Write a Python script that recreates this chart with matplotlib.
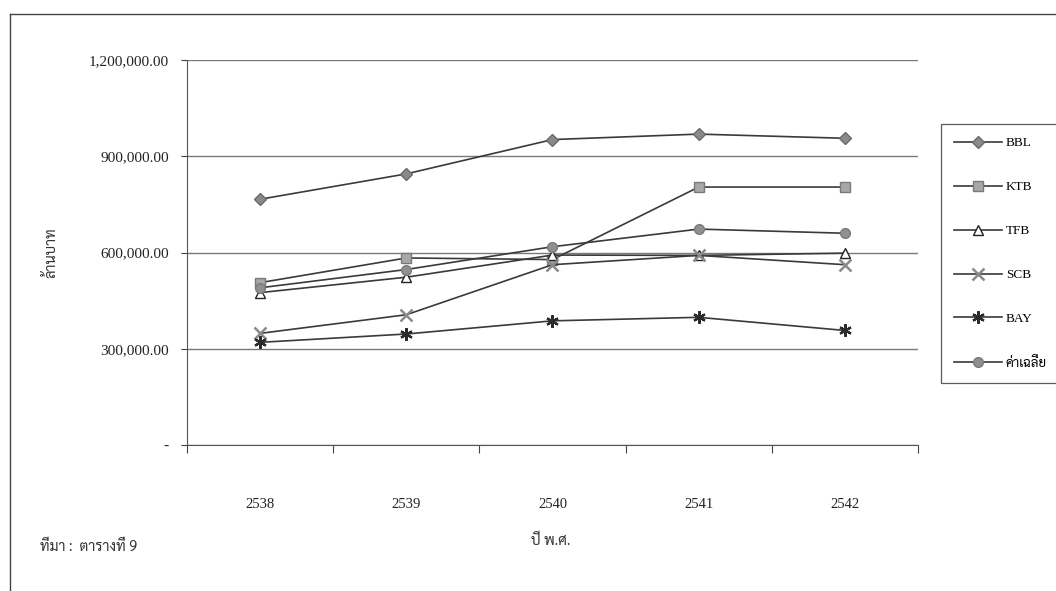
import matplotlib
matplotlib.use("Agg")
import matplotlib.pyplot as plt
from matplotlib.lines import Line2D
from matplotlib.ticker import FuncFormatter
import numpy as np

# data (million baht)
years = ["2538", "2539", "2540", "2541", "2542"]
bbl = [766000, 845000, 952000, 969000, 956000]
ktb = [506000, 583000, 578000, 804000, 804000]
tfb = [475000, 523000, 592000, 591000, 598000]
scb = [348000, 406000, 562000, 591000, 562000]
bay = [320000, 346000, 387000, 398000, 357000]
avg = [490000, 547000, 618000, 673000, 660000]

THAI = ["Sarabun", "DejaVu Sans"]
NUM = ["Liberation Serif", "Sarabun"]
LINE = "#3a3a3a"
GRID = "#7a7a7a"

fig = plt.figure(figsize=(10.56, 5.91), dpi=100)
ax = fig.add_axes([0.1771, 0.2470, 0.6922, 0.6515])

x = np.arange(len(years))
series = [
    ("BBL", bbl, dict(marker="D", markersize=6, markerfacecolor="#8a8a8a", markeredgecolor="#6a6a6a")),
    ("KTB", ktb, dict(marker="s", markersize=7, markerfacecolor="#a8a8a8", markeredgecolor="#7a7a7a")),
    ("TFB", tfb, dict(marker="^", markersize=7, markerfacecolor="white", markeredgecolor="#222", markeredgewidth=1.0)),
    ("SCB", scb, dict(marker="x", markersize=8, markeredgecolor="#8a8a8a", markeredgewidth=1.8)),
    ("BAY", bay, dict(marker=(6, 2, 0), markersize=9, markeredgecolor="#2a2a2a", markeredgewidth=1.6)),
    ("ค่าเฉลี่ย", avg, dict(marker="o", markersize=7, markerfacecolor="#909090", markeredgecolor="#7a7a7a")),
]
for name, vals, mk in series:
    ax.plot(x, vals, color=LINE, linewidth=1.2, label=name, zorder=3, **mk)

ax.set_xlim(-0.5, len(years) - 0.5)
ax.set_ylim(0, 1200000)
ax.set_yticks([0, 300000, 600000, 900000, 1200000])
ax.yaxis.set_major_formatter(FuncFormatter(lambda v, p: "-" if v == 0 else f"{v:,.2f}"))
ax.grid(axis="y", color=GRID, linewidth=1.0)
ax.set_axisbelow(True)

# category ticks sit between the years, labels at the centres
ax.set_xticks(np.arange(len(years) + 1) - 0.5)
ax.set_xticklabels([])
ax.set_xticks(x, minor=True)
ax.set_xticklabels(years, minor=True)
ax.tick_params(axis="x", which="major", direction="out", length=6, color="#444")
ax.tick_params(axis="x", which="minor", length=0, pad=38)
ax.tick_params(axis="y", direction="out", length=4, color="#444", pad=9)
for lbl in ax.get_xticklabels(minor=True):
    lbl.set_family(NUM)
    lbl.set_fontsize(10.5)
    lbl.set_color("#222")
for lbl in ax.get_yticklabels():
    lbl.set_family(NUM)
    lbl.set_fontsize(11)
    lbl.set_color("#222")

for s in ("top", "right"):
    ax.spines[s].set_visible(False)
ax.spines["left"].set_color("#555")
ax.spines["bottom"].set_color("#555")

ax.set_ylabel("ล้านบาท", family=THAI, fontsize=10.5, color="#333", labelpad=22)
fig.text(551 / 1056, 1 - 541 / 591, "ปี พ.ศ.", family=THAI, fontsize=10.5, color="#333",
         ha="center", va="center")
fig.text(40 / 1056, 1 - 546 / 591, "ที่มา :  ตารางที่ 9", family=THAI, fontsize=10.5, color="#333",
         ha="left", va="center")

leg = fig.legend(loc="upper left", bbox_to_anchor=(941 / 1056, 1 - 124 / 591),
                 prop={"family": NUM, "size": 9.5}, frameon=True, fancybox=False,
                 edgecolor="#333", labelspacing=2.4, handlelength=3.6, handletextpad=0.3,
                 borderpad=1.0, borderaxespad=0)
leg.get_frame().set_linewidth(0.9)

# outer frame of the scanned page
fig.add_artist(Line2D([10 / 1056, 1], [1 - 14 / 591] * 2, color="#444", linewidth=1.0))
fig.add_artist(Line2D([10 / 1056] * 2, [0, 1 - 14 / 591], color="#444", linewidth=1.0))

fig.savefig("out.png", dpi=100)
